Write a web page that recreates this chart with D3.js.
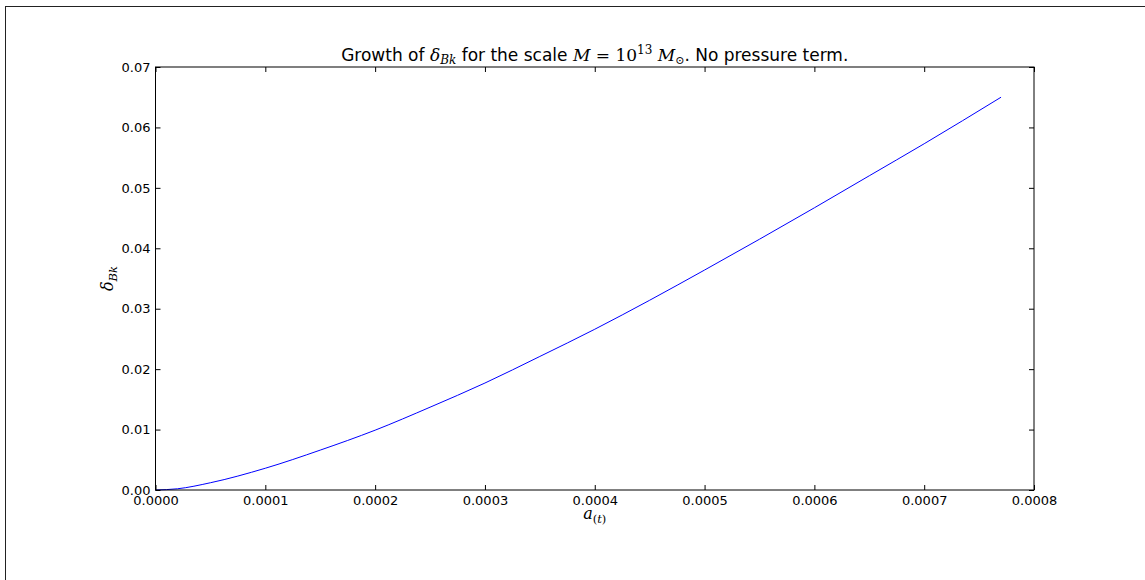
<!DOCTYPE html>
<html>
<head>
<meta charset="utf-8">
<script src="https://cdn.jsdelivr.net/npm/d3@7"></script>
<style>
  html, body { margin: 0; padding: 0; background: #fff; }
  svg { display: block; }
  .tick text { font-family: "DejaVu Sans", sans-serif; }
</style>
</head>
<body>
<svg id="chart" width="1145" height="580"></svg>
<script>
// Scale factor a(t) and the baryon density contrast delta_Bk
const aValues = [0, 0.00002, 0.00005, 0.0001, 0.00015, 0.0002, 0.00025, 0.0003, 0.00035,
                 0.0004, 0.00045, 0.0005, 0.00055, 0.0006, 0.00065, 0.0007, 0.00077];
const deltaValues = [0, 0.0002, 0.0012, 0.0036, 0.0066, 0.0099, 0.0137, 0.0177, 0.0221,
                     0.0266, 0.0314, 0.0364, 0.0415, 0.0467, 0.0520, 0.0573, 0.0650];
const xTicks = [0, 0.0001, 0.0002, 0.0003, 0.0004, 0.0005, 0.0006, 0.0007, 0.0008];
const yTicks = [0, 0.01, 0.02, 0.03, 0.04, 0.05, 0.06, 0.07];

const svg = d3.select("#chart");
const plotLeft = 155.5, plotRight = 1034, plotTop = 67, plotBottom = 490;

const x = d3.scaleLinear().domain([0, 0.0008]).range([plotLeft, plotRight]);
const y = d3.scaleLinear().domain([0, 0.07]).range([plotBottom, plotTop]);

// outer figure frame
svg.append("rect")
  .attr("x", 5.5).attr("y", 6.5).attr("width", 1300).attr("height", 800)
  .attr("fill", "none").attr("stroke", "#222").attr("stroke-width", 1);

// curve
const pts = aValues.map((a, i) => [a, deltaValues[i]]);
svg.append("path")
  .datum(pts)
  .attr("fill", "none")
  .attr("stroke", "#0000ff")
  .attr("stroke-width", 1)
  .attr("d", d3.line().x(d => x(d[0])).y(d => y(d[1])).curve(d3.curveMonotoneX));

const tickLen = 5;
const fs = 13;

// bottom axis (ticks pointing inward)
const xAxis = svg.append("g").attr("transform", `translate(0,${plotBottom})`)
  .call(d3.axisBottom(x).tickValues(xTicks).tickFormat(d3.format(".4f"))
        .tickSizeInner(-tickLen).tickSizeOuter(0).tickPadding(7));
xAxis.selectAll("text").attr("font-size", fs).attr("fill", "#000").attr("dy", "0.6em");

// top axis ticks
svg.append("g").attr("transform", `translate(0,${plotTop})`)
  .call(d3.axisTop(x).tickValues(xTicks).tickFormat("").tickSizeInner(-tickLen).tickSizeOuter(0));

// left axis
const yAxis = svg.append("g").attr("transform", `translate(${plotLeft},0)`)
  .call(d3.axisLeft(y).tickValues(yTicks).tickFormat(d3.format(".2f"))
        .tickSizeInner(-tickLen).tickSizeOuter(0).tickPadding(5));
yAxis.selectAll("text").attr("font-size", fs).attr("fill", "#000");

// right axis ticks
svg.append("g").attr("transform", `translate(${plotRight},0)`)
  .call(d3.axisRight(y).tickValues(yTicks).tickFormat("").tickSizeInner(-tickLen).tickSizeOuter(0));

svg.selectAll(".domain").remove();
svg.selectAll(".tick line").attr("stroke", "#000");

// plot frame
svg.append("rect")
  .attr("x", plotLeft).attr("y", plotTop).attr("width", plotRight - plotLeft).attr("height", plotBottom - plotTop)
  .attr("fill", "none").attr("stroke", "#000").attr("stroke-width", 1);

const serif = "'DejaVu Serif', 'Liberation Serif', serif";
const sans = "'DejaVu Sans', sans-serif";

// title
const title = svg.append("text")
  .attr("x", (plotLeft + plotRight) / 2).attr("y", 61)
  .attr("text-anchor", "middle")
  .attr("font-family", sans).attr("font-size", 17).attr("fill", "#000");
title.append("tspan").text("Growth of ");
title.append("tspan").attr("font-family", serif).attr("font-style", "italic").text("δ");
title.append("tspan").attr("font-family", serif).attr("font-style", "italic")
  .attr("font-size", 12).attr("dy", 3).text("Bk");
title.append("tspan").attr("dy", -3).text(" for the scale ");
title.append("tspan").attr("font-family", serif).attr("font-style", "italic").text("M");
title.append("tspan").attr("font-family", serif).text(" = 10");
title.append("tspan").attr("font-family", serif).attr("font-size", 12).attr("dy", -7).text("13");
title.append("tspan").attr("font-family", serif).attr("font-style", "italic").attr("dy", 7).text(" M");
title.append("tspan").attr("font-family", serif).attr("font-size", 11).attr("dy", 3).text("⊙");
title.append("tspan").attr("dy", -3).text(". No pressure term.");

// x label
const xl = svg.append("text")
  .attr("x", (plotLeft + plotRight) / 2).attr("y", 519)
  .attr("text-anchor", "middle")
  .attr("font-family", serif).attr("font-size", 16).attr("fill", "#000");
xl.append("tspan").attr("font-style", "italic").text("a");
xl.append("tspan").attr("font-size", 11.5).attr("dy", 4).text("(");
xl.append("tspan").attr("font-size", 11.5).attr("font-style", "italic").text("t");
xl.append("tspan").attr("font-size", 11.5).text(")");

// y label
const yl = svg.append("text")
  .attr("transform", `translate(113,${(plotTop + plotBottom) / 2}) rotate(-90)`)
  .attr("text-anchor", "middle")
  .attr("font-family", serif).attr("font-size", 16).attr("fill", "#000");
yl.append("tspan").attr("font-style", "italic").text("δ");
yl.append("tspan").attr("font-style", "italic").attr("font-size", 11.5).attr("dy", 4).text("Bk");
</script>
</body>
</html>
